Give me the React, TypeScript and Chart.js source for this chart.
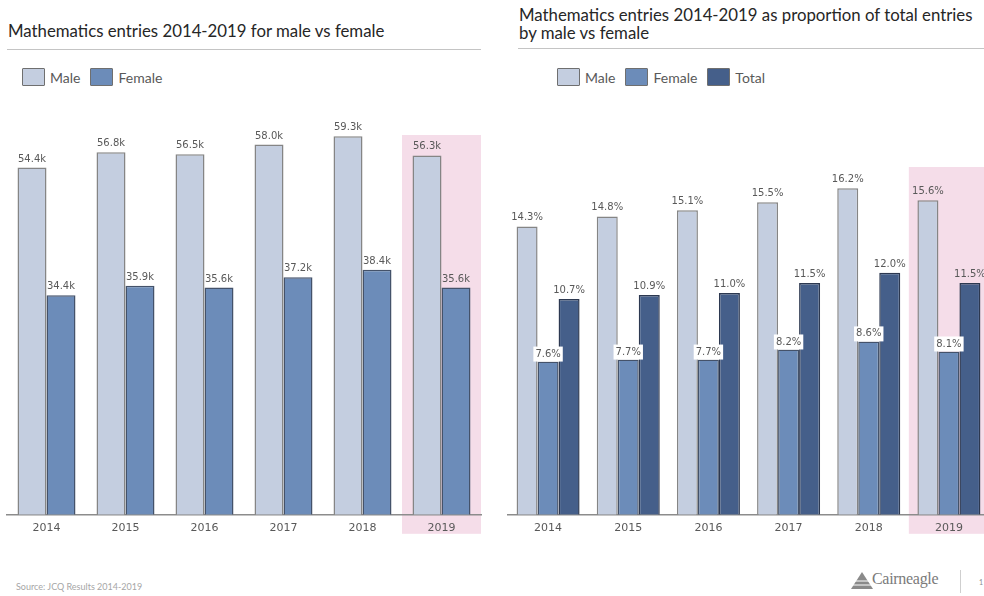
import React, { useEffect, useRef } from "react";
import { Chart, registerables } from "chart.js";

Chart.register(...registerables);

// ---- data ----
const years = ["2014", "2015", "2016", "2017", "2018", "2019"];
const highlightYear = "2019";

// entries in thousands
const maleEntriesK = [54.4, 56.8, 56.5, 58.0, 59.3, 56.3];
const femaleEntriesK = [34.4, 35.9, 35.6, 37.2, 38.4, 35.6];

// share of all entries, %
const maleSharePct = [14.3, 14.8, 15.1, 15.5, 16.2, 15.6];
const femaleSharePct = [7.6, 7.7, 7.7, 8.2, 8.6, 8.1];
const totalSharePct = [10.7, 10.9, 11.0, 11.5, 12.0, 11.5];

// ---- styling ----
const MALE = { fill: "#c4cee0", border: "#858585" };
const FEMALE = { fill: "#6c8cb9", border: "#44526a" };
const TOTAL = { fill: "#455f8a", border: "#2c3850" };
const PINK = "#f5dde9";
const TEXT_GREY = "#595959";
const TITLE_FONT = "Lato, 'Open Sans', sans-serif";
const LABEL_FONT = "'DejaVu Sans', Verdana, sans-serif";
const CANVAS_H = 442;

// shaded band behind the highlighted category
const highlightPlugin = {
  id: "highlightBand",
  beforeDraw(chart: any) {
    const xs = chart.scales.x;
    const idx = years.indexOf(highlightYear);
    if (idx < 0) return;
    const w = xs.width / years.length;
    const cx = xs.getPixelForValue(idx);
    const { top, bottom } = chart.chartArea;
    const ctx = chart.ctx;
    ctx.save();
    ctx.fillStyle = PINK;
    ctx.fillRect(cx - w / 2, top, w, bottom - top + 19);
    ctx.restore();
  },
};

// value labels above each bar
const valueLabelPlugin = {
  id: "valueLabels",
  afterDatasetsDraw(chart: any, _args: any, opts: any) {
    const ctx = chart.ctx;
    ctx.save();
    ctx.font = `10px ${LABEL_FONT}`;
    ctx.textAlign = "center";
    chart.data.datasets.forEach((ds: any, i: number) => {
      const meta = chart.getDatasetMeta(i);
      const boxed = opts.boxed && opts.boxed[i];
      meta.data.forEach((bar: any, j: number) => {
        const text = opts.format(ds.data[j]);
        if (boxed) {
          const tw = ctx.measureText(text).width;
          const bw = tw + 4;
          const bh = 15;
          ctx.fillStyle = "#ffffff";
          ctx.fillRect(bar.x - bw / 2, bar.y - bh, bw, bh);
          ctx.fillStyle = TEXT_GREY;
          ctx.textBaseline = "middle";
          ctx.fillText(text, bar.x, bar.y - bh / 2);
        } else {
          ctx.fillStyle = TEXT_GREY;
          ctx.textBaseline = "alphabetic";
          ctx.fillText(text, bar.x, bar.y - 6);
        }
      });
    });
    ctx.restore();
  },
};

type PanelProps = {
  datasets: any[];
  yMax: number;
  groupShare: number;
  format: (v: number) => string;
  boxed: boolean[];
  padding: { top: number; left: number; right: number; bottom: number };
  left: number;
  width: number;
};

function BarPanel(p: PanelProps) {
  const ref = useRef<HTMLCanvasElement>(null);
  useEffect(() => {
    const chart = new Chart(ref.current as HTMLCanvasElement, {
      type: "bar",
      data: { labels: years, datasets: p.datasets },
      options: {
        animation: false,
        responsive: false,
        layout: { padding: p.padding },
        datasets: {
          bar: { categoryPercentage: p.groupShare, barPercentage: 1, borderWidth: 1.5 },
        },
        plugins: {
          legend: { display: false },
          tooltip: { enabled: false },
          valueLabels: { format: p.format, boxed: p.boxed },
        } as any,
        scales: {
          x: {
            grid: { display: false, drawTicks: false },
            border: { display: true, color: "#8c8c8c", width: 1.5 },
            ticks: { color: TEXT_GREY, padding: 7, font: { family: LABEL_FONT, size: 11 } },
          },
          y: { display: false, min: 0, max: p.yMax },
        },
      },
      plugins: [highlightPlugin, valueLabelPlugin],
    });
    return () => chart.destroy();
  }, []);
  return (
    <canvas
      ref={ref}
      width={p.width}
      height={CANVAS_H}
      style={{ position: "absolute", left: p.left, top: 100, width: p.width, height: CANVAS_H }}
    />
  );
}

function Legend({ items, left }: { items: { label: string; fill: string }[]; left: number }) {
  return (
    <div style={{ position: "absolute", left, top: 68, display: "flex", alignItems: "center" }}>
      {items.map((it) => (
        <div key={it.label} style={{ display: "flex", alignItems: "center", marginRight: 10 }}>
          <span
            style={{
              display: "inline-block",
              width: 21,
              height: 16,
              background: it.fill,
              border: "1px solid #6f6f6f",
              borderRadius: 1,
            }}
          />
          <span style={{ marginLeft: 5, fontFamily: TITLE_FONT, fontSize: 14, color: TEXT_GREY }}>
            {it.label}
          </span>
        </div>
      ))}
    </div>
  );
}

const titleStyle: React.CSSProperties = {
  position: "absolute",
  fontFamily: TITLE_FONT,
  fontSize: 16.8,
  color: "#262626",
  lineHeight: "18px",
  margin: 0,
  whiteSpace: "nowrap",
};

export default function App() {
  const entryDatasets = [
    { label: "Male", data: maleEntriesK, backgroundColor: MALE.fill, borderColor: MALE.border },
    { label: "Female", data: femaleEntriesK, backgroundColor: FEMALE.fill, borderColor: FEMALE.border },
  ];
  const shareDatasets = [
    { label: "Male", data: maleSharePct, backgroundColor: MALE.fill, borderColor: MALE.border },
    { label: "Female", data: femaleSharePct, backgroundColor: FEMALE.fill, borderColor: FEMALE.border },
    { label: "Total", data: totalSharePct, backgroundColor: TOTAL.fill, borderColor: TOTAL.border },
  ];
  const legendOf = (ds: any[]) => ds.map((d) => ({ label: d.label, fill: d.backgroundColor }));

  return (
    <div
      style={{
        position: "absolute",
        left: 0,
        top: 0,
        width: 984,
        height: 596,
        overflow: "hidden",
        background: "#ffffff",
      }}
    >
      {/* left panel */}
      <div style={{ ...titleStyle, left: 8, top: 22 }}>
        Mathematics entries 2014-2019 for male vs female
      </div>
      <div style={{ position: "absolute", left: 7, top: 49, width: 474, height: 1, background: "#c4c4c4" }} />
      <Legend items={legendOf(entryDatasets)} left={22} />
      <BarPanel
        datasets={entryDatasets}
        yMax={59.5}
        groupShare={0.734}
        format={(v) => `${v.toFixed(1)}k`}
        boxed={[false, false]}
        padding={{ top: 35, left: 7, right: 9, bottom: 0 }}
        left={0}
        width={490}
      />

      {/* right panel */}
      <div style={{ ...titleStyle, left: 519, top: 6 }}>
        Mathematics entries 2014-2019 as proportion of total entries
        <br />
        by male vs female
      </div>
      <div style={{ position: "absolute", left: 518, top: 48, width: 466, height: 1, background: "#c4c4c4" }} />
      <Legend items={legendOf(shareDatasets)} left={557} />
      <BarPanel
        datasets={shareDatasets}
        yMax={17.25}
        groupShare={0.786}
        format={(v) => `${v.toFixed(1)}%`}
        boxed={[false, true, false]}
        padding={{ top: 67, left: 8, right: 11, bottom: 0 }}
        left={500}
        width={500}
      />

      {/* footer */}
      <div
        style={{
          position: "absolute",
          left: 16,
          top: 581,
          fontFamily: TITLE_FONT,
          fontSize: 9,
          color: "#a6a6a6",
          whiteSpace: "nowrap",
        }}
      >
        Source: JCQ Results 2014-2019
      </div>
      <svg
        style={{ position: "absolute", left: 851, top: 572 }}
        width={22}
        height={17}
        viewBox="0 0 22 17"
      >
        <polygon points="11,0 22,17 0,17" fill="#8a8a8a" />
        <line x1="0" y1="9" x2="22" y2="9" stroke="#ffffff" strokeWidth="1" />
        <line x1="0" y1="13" x2="22" y2="13" stroke="#ffffff" strokeWidth="1" />
      </svg>
      <div
        style={{
          position: "absolute",
          left: 872,
          top: 570,
          fontFamily: "'Liberation Serif', 'DejaVu Serif', serif",
          fontSize: 16,
          color: "#7a7a7a",
          whiteSpace: "nowrap",
          letterSpacing: -0.3,
        }}
      >
        Cairneagle
      </div>
      <div style={{ position: "absolute", left: 960, top: 570, width: 1, height: 23, background: "#cfcfcf" }} />
      <div
        style={{
          position: "absolute",
          left: 979,
          top: 578,
          fontFamily: TITLE_FONT,
          fontSize: 7,
          color: "#8c8c8c",
        }}
      >
        1
      </div>
    </div>
  );
}
